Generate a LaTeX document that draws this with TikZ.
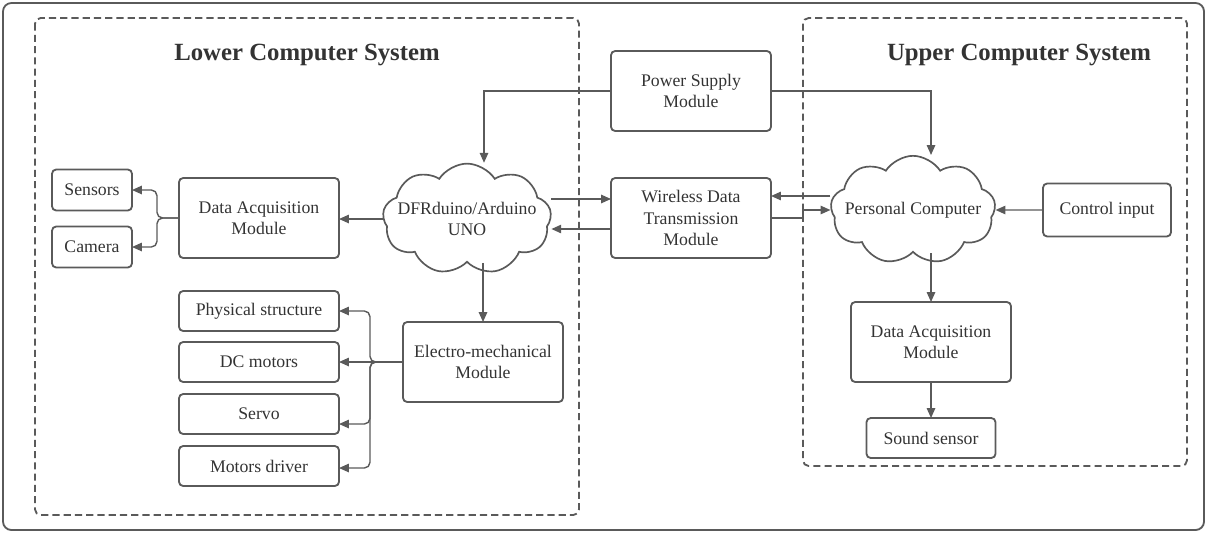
\documentclass[tikz,border=0pt]{standalone}
\usepackage{fontspec}
\setmainfont{Liberation Serif}
\usetikzlibrary{arrows.meta,shapes.symbols,positioning}
\definecolor{linegray}{HTML}{5A5A5A}
\definecolor{textgray}{HTML}{333333}

\begin{document}
\begin{tikzpicture}
    [
        x=0.025cm, y=-0.025cm,
        every node/.style={text=textgray, font=\fontsize{12.6}{15}\selectfont},
        Box/.style={rectangle, rounded corners=3pt, draw=linegray, line width=1.3pt, align=center, inner sep=0pt, outer sep=0pt, minimum width=4cm},
        Cloud/.style={cloud, cloud puffs=9, cloud puff arc=115, aspect=1.9, draw=linegray, line width=1.2pt, align=center, inner xsep=-0.3cm, inner ysep=-0.2cm, minimum width=3.6cm, minimum height=1.8cm},
        Arrow/.style={draw=linegray, line width=1pt, -{Triangle[length=7pt,width=6pt]}},
        System/.style={draw=linegray, line width=1.3pt, dash pattern=on 5pt off 3pt, rounded corners=4pt},
        Title/.style={font=\fontsize{17.6}{20}\selectfont\bfseries}
    ]
    \useasboundingbox (0,0) rectangle (1207,534);
    \draw[draw=linegray, line width=1.3pt, rounded corners=6pt] (3,3) rectangle (1204,530);

    % the two systems
    \draw[System] (35,18) rectangle (579,515);
    \draw[System] (803,18) rectangle (1187,466);
    \node[Title] (LowerTitle) at (307,55) {Lower Computer System};
    \node[Title] (UpperTitle) at (1019,55) {Upper Computer System};

    % lower computer
    \node[Box, minimum width=2cm, minimum height=1.025cm] (Sensors) at (92,190) {Sensors};
    \node[Box, minimum width=2cm, minimum height=1.025cm] (Camera) at (92,247) {Camera};
    \node[Box, minimum height=2cm] (DataAcqL) at (259,218) {Data Acquisition\\ Module};
    \node[Cloud] (Arduino) at (467,219) {DFRduino/Arduino\\ UNO};
    \node[Box, minimum height=1cm] (Physical) at (259,311) {Physical structure};
    \node[Box, minimum height=1cm] (DCMotors) at (259,362) {DC motors};
    \node[Box, minimum height=1cm] (Servo) at (259,414) {Servo};
    \node[Box, minimum height=1cm] (Driver) at (259,466) {Motors driver};
    \node[Box, minimum height=2cm] (Electro) at (483,362) {Electro-mechanical\\ Module};

    % shared modules
    \node[Box, minimum height=2cm] (Power) at (691,91) {Power Supply\\ Module};
    \node[Box, minimum height=2cm] (Wireless) at (691,218) {Wireless Data\\ Transmission\\ Module};

    % upper computer
    \node[Cloud] (PC) at (913,210) {Personal Computer};
    \node[Box, minimum width=3.2cm, minimum height=1.325cm] (Control) at (1107,210) {Control input};
    \node[Box, minimum height=2cm] (DataAcqR) at (931,342) {Data Acquisition\\ Module};
    \node[Box, minimum width=3.225cm, minimum height=1cm] (Sound) at (931,438) {Sound sensor};

    % power lines
    \draw[Arrow] (Power.west) -| ([xshift=0.425cm]Arduino.north);
    \draw[Arrow] (Power.east) -| ([xshift=0.45cm]PC.north);

    % data lines
    \draw[Arrow] (Arduino.west) -- (Arduino.west -| DataAcqL.east);
    \draw[Arrow, rounded corners=4pt] (DataAcqL.west) -- ++(-0.55cm,0) |- (Sensors.east);
    \draw[Arrow, rounded corners=4pt] (DataAcqL.west) -- ++(-0.55cm,0) |- (Camera.east);
    \draw[Arrow] (Electro.north |- Arduino.south) -- (Electro.north);
    \draw[Arrow, rounded corners=4pt] (Electro.west) -- ++(-0.825cm,0) |- (Physical.east);
    \draw[Arrow] (Electro.west) -- (DCMotors.east);
    \draw[Arrow, rounded corners=4pt] (Electro.west) -- ++(-0.825cm,0) |- ([yshift=-0.25cm]Servo.east);
    \draw[Arrow, rounded corners=4pt] (Electro.west) -- ++(-0.825cm,0) |- ([yshift=-0.05cm]Driver.east);

    \draw[Arrow] ([yshift=0.475cm]Wireless.west -| Arduino.east) -- ([yshift=0.475cm]Wireless.west);
    \draw[Arrow] ([yshift=-0.275cm]Wireless.west) -- ([yshift=-0.275cm]Wireless.west -| Arduino.east);
    \draw[Arrow] ([yshift=0.55cm]Wireless.east -| PC.west) -- ([yshift=0.55cm]Wireless.east);
    \draw[Arrow] (Wireless.east) -- ++(0.8cm,0) |- (PC.west);
    \draw[Arrow] (Control.west) -- (PC.east);
    \draw[Arrow] (DataAcqR.north |- PC.south) -- (DataAcqR.north);
    \draw[Arrow] (DataAcqR.south) -- (Sound.north);
\end{tikzpicture}
\end{document}
